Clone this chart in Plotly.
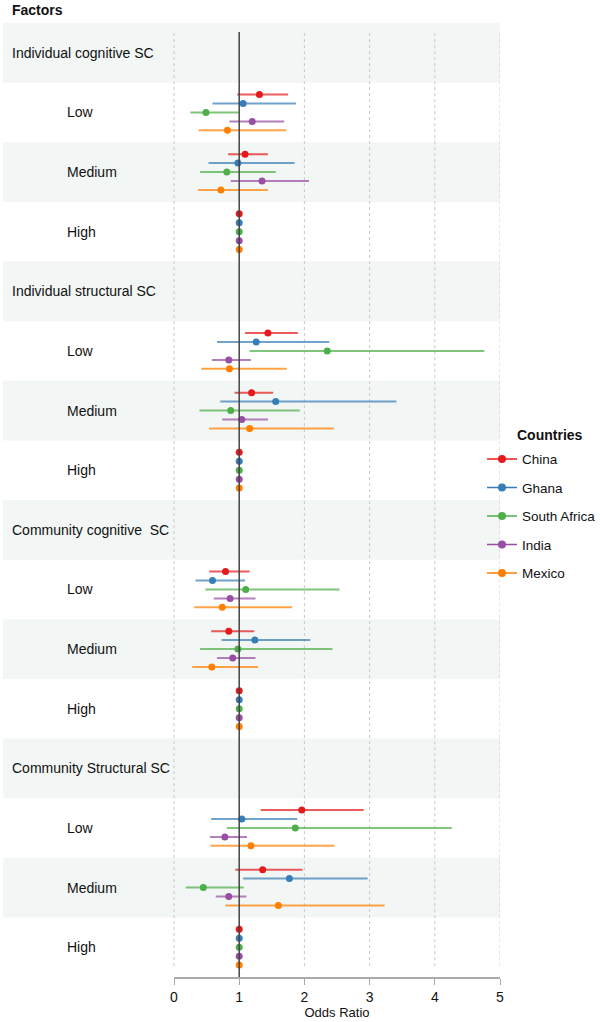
import plotly.graph_objects as go

# ---- data ----
row_labels = [
    "Individual cognitive SC", "Low", "Medium", "High",
    "Individual structural SC", "Low", "Medium", "High",
    "Community cognitive  SC", "Low", "Medium", "High",
    "Community Structural SC", "Low", "Medium", "High",
]
is_header = [True, False, False, False] * 4
shaded = [True, False, True, False] * 4

countries = ["China", "Ghana", "South Africa", "India", "Mexico"]
colors = ["#e41a1c", "#377eb8", "#4daf4a", "#984ea3", "#ff7f00"]
bar_colors = ["rgba(228,26,28,0.72)", "rgba(55,126,184,0.72)", "rgba(77,175,74,0.72)",
              "rgba(152,78,163,0.72)", "rgba(255,127,0,0.72)"]

# rows with estimates (index into row_labels)
data_rows = [1, 2, 3, 5, 6, 7, 9, 10, 11, 13, 14, 15]

# odds ratios per country, ordered as data_rows
OR = {
    "China":        [1.31, 1.09, 1.0, 1.44, 1.19, 1.0, 0.79, 0.84, 1.0, 1.96, 1.36, 1.0],
    "Ghana":        [1.06, 0.98, 1.0, 1.26, 1.56, 1.0, 0.59, 1.24, 1.0, 1.04, 1.77, 1.0],
    "South Africa": [0.49, 0.81, 1.0, 2.35, 0.87, 1.0, 1.10, 0.98, 1.0, 1.86, 0.45, 1.0],
    "India":        [1.20, 1.35, 1.0, 0.84, 1.04, 1.0, 0.86, 0.90, 1.0, 0.78, 0.84, 1.0],
    "Mexico":       [0.82, 0.72, 1.0, 0.85, 1.16, 1.0, 0.74, 0.58, 1.0, 1.18, 1.60, 1.0],
}
LO = {
    "China":        [0.97, 0.83, 1.0, 1.09, 0.93, 1.0, 0.54, 0.57, 1.0, 1.33, 0.94, 1.0],
    "Ghana":        [0.59, 0.53, 1.0, 0.66, 0.71, 1.0, 0.33, 0.73, 1.0, 0.57, 1.06, 1.0],
    "South Africa": [0.25, 0.40, 1.0, 1.16, 0.39, 1.0, 0.48, 0.40, 1.0, 0.81, 0.18, 1.0],
    "India":        [0.85, 0.87, 1.0, 0.58, 0.74, 1.0, 0.61, 0.66, 1.0, 0.55, 0.64, 1.0],
    "Mexico":       [0.38, 0.37, 1.0, 0.42, 0.54, 1.0, 0.31, 0.28, 1.0, 0.56, 0.79, 1.0],
}
HI = {
    "China":        [1.75, 1.44, 1.0, 1.90, 1.52, 1.0, 1.16, 1.23, 1.0, 2.91, 1.97, 1.0],
    "Ghana":        [1.87, 1.85, 1.0, 2.38, 3.41, 1.0, 1.09, 2.09, 1.0, 1.89, 2.97, 1.0],
    "South Africa": [0.99, 1.56, 1.0, 4.76, 1.93, 1.0, 2.54, 2.43, 1.0, 4.26, 1.07, 1.0],
    "India":        [1.69, 2.07, 1.0, 1.18, 1.44, 1.0, 1.25, 1.25, 1.0, 1.12, 1.11, 1.0],
    "Mexico":       [1.72, 1.44, 1.0, 1.73, 2.45, 1.0, 1.81, 1.29, 1.0, 2.46, 3.23, 1.0],
}
x_ticks = [0, 1, 2, 3, 4, 5]

# ---- layout geometry ----
W, H = 600, 1022
ml, mr, mt, mb = 3, 100, 23, 45
plot_w = W - ml - mr
plot_h = H - mt - mb
axis_start_px = 171  # from plot-area left to value 0
xmax = 5
xmin = -xmax * axis_start_px / (plot_w - axis_start_px)
nrows = len(row_labels)
spacing = 0.15

fig = go.Figure()

for k, c in enumerate(countries):
    ys = [r + (k - 2) * spacing for r in data_rows]
    xs = OR[c]
    plus = [h - x for h, x in zip(HI[c], xs)]
    minus = [x - l for x, l in zip(xs, LO[c])]
    fig.add_trace(go.Scatter(
        x=xs, y=ys, mode="markers",
        marker=dict(color=colors[k], size=7),
        error_x=dict(type="data", array=plus, arrayminus=minus, symmetric=False,
                     color=bar_colors[k], thickness=2, width=0),
        showlegend=False, legendgroup=c, hoverinfo="x+name", name=c,
    ))
    # legend entry
    fig.add_trace(go.Scatter(
        x=[None], y=[None], mode="lines+markers", name=c,
        line=dict(color=colors[k], width=1.5),
        marker=dict(color=colors[k], size=8),
        legendgroup=c, showlegend=True,
    ))

shapes = []
for r in range(nrows):
    if shaded[r]:
        shapes.append(dict(type="rect", xref="paper", yref="y", x0=0, x1=1,
                           y0=r - 0.5, y1=r + 0.5, fillcolor="#f2f6f4",
                           line=dict(width=0), layer="below"))
for t in x_ticks:
    if t == 1:
        continue
    shapes.append(dict(type="line", xref="x", yref="y", x0=t, x1=t,
                       y0=-0.33, y1=nrows - 0.65,
                       line=dict(color="#c8c8c8", width=1, dash="dot"), layer="below"))
shapes.append(dict(type="line", xref="x", yref="y", x0=1, x1=1,
                   y0=-0.35, y1=nrows - 0.5,
                   line=dict(color="#444444", width=1.5), layer="above"))

annotations = []
for r, lab in enumerate(row_labels):
    annotations.append(dict(
        x=xmin + (7 if is_header[r] else 62) * (xmax - xmin) / plot_w,
        y=r, xref="x", yref="y", text=lab, showarrow=False,
        xanchor="left", yanchor="middle",
        font=dict(size=14, color="#111111", family="Liberation Sans, Arial"),
    ))
annotations.append(dict(
    x=(10 - ml) / plot_w, y=1 + (mt - 10) / plot_h,
    xref="paper", yref="paper", text="<b>Factors</b>", showarrow=False,
    xanchor="left", yanchor="middle",
    font=dict(size=14, color="#111111", family="Liberation Sans, Arial"),
))
annotations.append(dict(
    x=(550 - ml) / plot_w, y=1 - (435 - mt) / plot_h,
    xref="paper", yref="paper", text="<b>Countries</b>", showarrow=False,
    xanchor="center", yanchor="middle",
    font=dict(size=14, color="#111111", family="Liberation Sans, Arial"),
))

fig.update_layout(
    width=W, height=H,
    margin=dict(l=ml, r=mr, t=mt, b=mb, autoexpand=False),
    paper_bgcolor="white", plot_bgcolor="rgba(0,0,0,0)",
    font=dict(family="Liberation Sans, Arial", size=13, color="#111111"),
    xaxis=dict(range=[xmin, xmax], visible=False, fixedrange=True),
    xaxis2=dict(range=[0, xmax], domain=[axis_start_px / plot_w, 1], anchor="y",
                side="bottom", tickvals=x_ticks, fixedrange=True,
                showgrid=False, zeroline=False, showline=True, linecolor="#aaaaaa",
                linewidth=1.5, ticks="outside", ticklen=6, tickcolor="#aaaaaa",
                tickfont=dict(size=14, color="#111111"),
                title=dict(text="Odds Ratio", font=dict(size=13, color="#111111"), standoff=4)),
    yaxis=dict(range=[nrows - 0.5, -0.5], visible=False, fixedrange=True),
    shapes=shapes,
    annotations=annotations,
    legend=dict(
        x=(482 - ml) / plot_w, xanchor="left", y=0.5591, yanchor="top",
        font=dict(size=13.5), tracegroupgap=8, itemwidth=30,
        bgcolor="rgba(0,0,0,0)",
    ),
)
# dummy trace to activate xaxis2
fig.add_trace(go.Scatter(x=[None], y=[None], xaxis="x2", yaxis="y", showlegend=False,
                         hoverinfo="skip"))

fig.write_html("out.html")
